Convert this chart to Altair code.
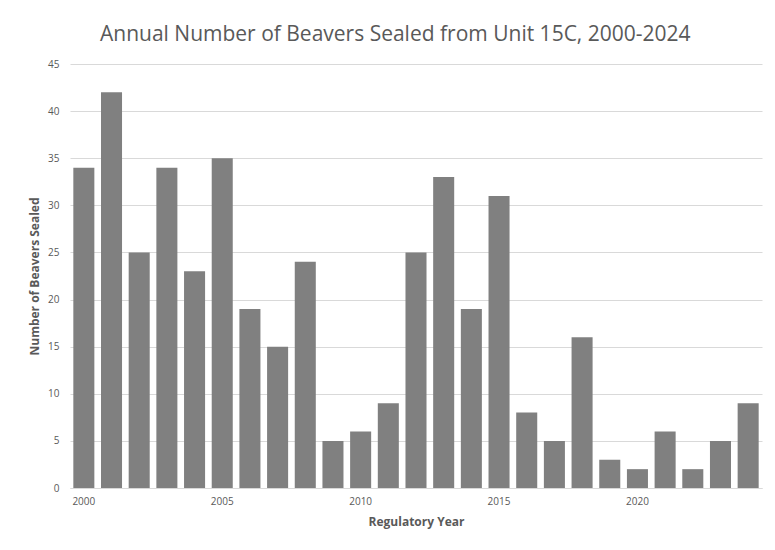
import altair as alt
import pandas as pd

years = [str(y) for y in range(2000, 2025)]
beavers = [34, 42, 25, 34, 23, 35, 19, 15, 24, 5, 6, 9, 25, 33, 19, 31, 8, 5, 16, 3, 2, 6, 2, 5, 9]
y_ticks = [0, 5, 10, 15, 20, 25, 30, 35, 40, 45]

df = pd.DataFrame({"year": years, "count": beavers})

FONT = "Open Sans"
GRAY = "#595959"

chart = alt.Chart(df).mark_bar(color="#808080").encode(
    x=alt.X(
        "year:O",
        scale=alt.Scale(paddingInner=0.24, paddingOuter=0.12),
        axis=alt.Axis(
            title="Regulatory Year",
            labelAngle=0,
            labelExpr="datum.value % 5 == 0 ? datum.value : ''",
            ticks=False,
            domainColor="#d9d9d9",
            labelPadding=8,
            titlePadding=10,
        ),
    ),
    y=alt.Y(
        "count:Q",
        scale=alt.Scale(domain=[0, 45]),
        axis=alt.Axis(
            title="Number of Beavers Sealed",
            values=y_ticks,
            ticks=False,
            domain=False,
            gridColor="#d9d9d9",
            labelPadding=11,
            titlePadding=6,
        ),
    ),
).properties(
    width=692,
    height=424,
    title=alt.TitleParams(
        "Annual Number of Beavers Sealed from Unit 15C, 2000-2024",
        fontSize=21,
        font=FONT,
        fontWeight="normal",
        color=GRAY,
        anchor="middle",
        frame="bounds",
        offset=14,
    ),
    background="white",
    padding={"left": 20, "top": 16, "right": 5, "bottom": 5},
).configure_view(stroke=None).configure_axis(
    labelFont=FONT,
    labelFontSize=10,
    labelColor=GRAY,
    titleFont=FONT,
    titleFontSize=12,
    titleFontWeight="bold",
    titleColor=GRAY,
)

chart.save("out.html", embed_options={"renderer": "svg", "actions": False})
